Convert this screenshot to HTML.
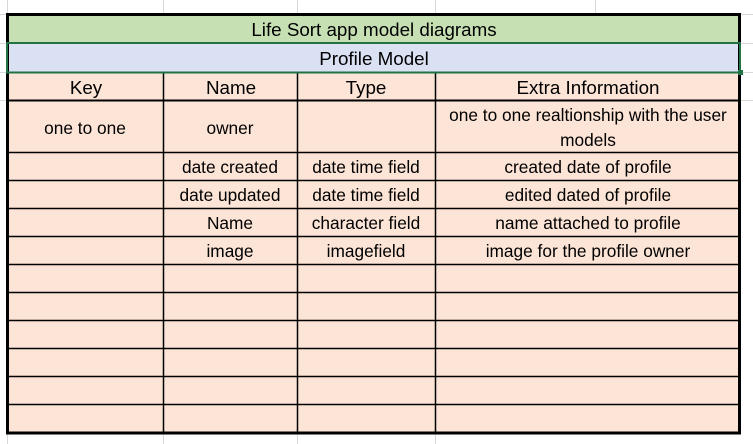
<!DOCTYPE html>
<html><head><meta charset="utf-8"><style>
html,body{margin:0;padding:0;background:#fff;}
svg{display:block;}
text{font-family:"Liberation Sans",sans-serif;font-size:17.3px;fill:#000;text-anchor:middle;}
text.h{font-size:18.8px;}
</style></head><body>
<svg width="753" height="444" xmlns="http://www.w3.org/2000/svg">
<g stroke="#d8d8d8" stroke-width="1">
<line x1="7.5" y1="0" x2="7.5" y2="444"/>
<line x1="163.5" y1="0" x2="163.5" y2="444"/>
<line x1="297.5" y1="0" x2="297.5" y2="444"/>
<line x1="435.5" y1="0" x2="435.5" y2="444"/>
<line x1="595.5" y1="0" x2="595.5" y2="14"/>
<line x1="0" y1="14.5" x2="753" y2="14.5"/>
<line x1="740" y1="43.5" x2="753" y2="43.5"/>
<line x1="740" y1="72.5" x2="753" y2="72.5"/>
<line x1="740" y1="100.5" x2="753" y2="100.5"/>
<line x1="0" y1="43.5" x2="7" y2="43.5"/>
<line x1="0" y1="72.5" x2="7" y2="72.5"/>
<line x1="0" y1="100.5" x2="7" y2="100.5"/>
</g>
<rect x="7" y="14" width="733" height="29" fill="#c6e0b4"/>
<rect x="7" y="43" width="733" height="30" fill="#d9e1f2"/>
<rect x="7" y="73" width="733" height="360" fill="#fce4d6"/>
<g stroke="#000" stroke-width="1.5">
<line x1="163.5" y1="73" x2="163.5" y2="433"/>
<line x1="297.5" y1="73" x2="297.5" y2="433"/>
<line x1="435.5" y1="73" x2="435.5" y2="433"/>
<line x1="7" y1="152.5" x2="740" y2="152.5"/>
<line x1="7" y1="180.5" x2="740" y2="180.5"/>
<line x1="7" y1="208.5" x2="740" y2="208.5"/>
<line x1="7" y1="236.5" x2="740" y2="236.5"/>
<line x1="7" y1="264.5" x2="740" y2="264.5"/>
<line x1="7" y1="292.5" x2="740" y2="292.5"/>
<line x1="7" y1="320.5" x2="740" y2="320.5"/>
<line x1="7" y1="348.5" x2="740" y2="348.5"/>
<line x1="7" y1="376.5" x2="740" y2="376.5"/>
<line x1="7" y1="404.5" x2="740" y2="404.5"/>
</g>
<line x1="7" y1="100.5" x2="740" y2="100.5" stroke="#000" stroke-width="2"/>
<rect x="7.5" y="14.5" width="732" height="418.5" fill="none" stroke="#000" stroke-width="3"/>
<rect x="7" y="43" width="733" height="29.5" fill="none" stroke="#217346" stroke-width="2"/>
<rect x="738" y="70" width="5" height="5" fill="#217346"/>
<text class="h" x="374" y="36">Life Sort app model diagrams</text>
<text class="h" x="374" y="65">Profile Model</text>
<text class="h" x="86" y="94">Key</text>
<text class="h" x="231" y="94">Name</text>
<text class="h" x="366" y="94">Type</text>
<text class="h" x="588" y="94">Extra Information</text>
<text x="85" y="134">one to one</text>
<text x="230" y="134">owner</text>
<text x="588" y="121">one to one realtionship with the user</text>
<text x="588" y="146">models</text>
<text x="230" y="173">date created</text>
<text x="366" y="173">date time field</text>
<text x="588" y="173">created date of profile</text>
<text x="230" y="201">date updated</text>
<text x="366" y="201">date time field</text>
<text x="588" y="201">edited dated of profile</text>
<text x="230" y="229">Name</text>
<text x="366" y="229">character field</text>
<text x="588" y="229">name attached to profile</text>
<text x="230" y="257">image</text>
<text x="366" y="257">imagefield</text>
<text x="588" y="257">image for the profile owner</text>
</svg>
</body></html>
